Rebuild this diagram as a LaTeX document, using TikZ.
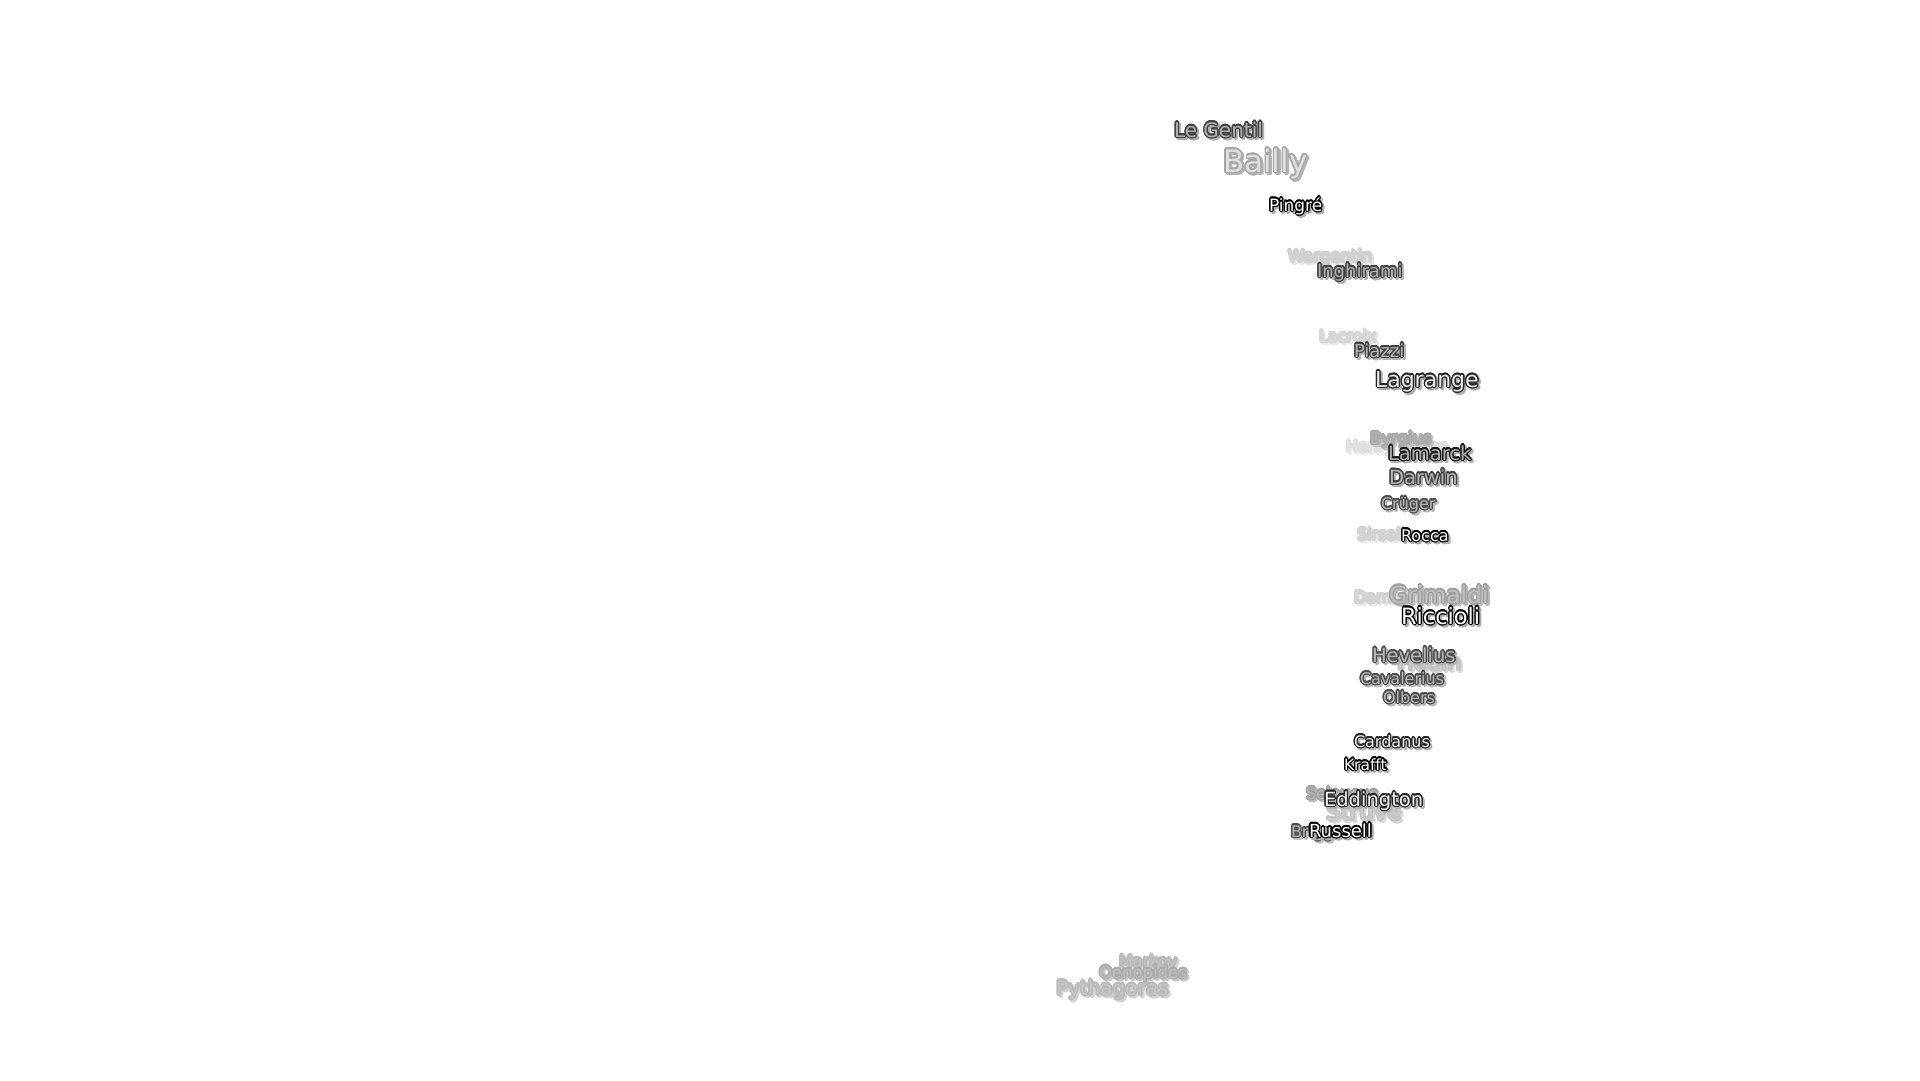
\documentclass[tikz,border=0pt]{standalone}
\usepackage{fontspec}
\setmainfont{DejaVu Sans}
\usepackage{tikz}
\usepackage{contour}
\contourlength{1.2pt}
\contournumber{16}

\begin{document}
\begin{tikzpicture}[x=1pt, y=-1pt, every node/.style={anchor=base west, inner sep=0pt, outer sep=0pt}]
	\fill [white] (0,0) rectangle (1920,1080);
	\useasboundingbox (0,0) rectangle (1920,1080);
	% x / baseline / size / fill / outline / shadow / name
	\foreach [count=\k] \x/\y/\s/\fc/\oc/\sc/\tx in {
		1174/137/20/gray!60/black!75/gray!65/Le Gentil,
		1223/172/31/gray!25/gray!70/gray!60/Bailly,
		1269/211/17/white/black/gray!65/Pingré,
		1288/262/16.5/gray!35/gray!38/gray!22/Wargentin,
		1317/277/18/gray!60/black!75/gray!60/Inghirami,
		1319/342/16/gray!30/gray!33/gray!18/Lacroix,
		1354/357/18/gray!55/black!75/gray!60/Piazzi,
		1375/387/22/gray!15/black!85/gray!65/Lagrange,
		1346/452/16/gray!22/gray!26/gray!14/Henry Frères,
		1370/444/16.5/gray!60/gray!68/gray!45/Byrgius,
		1388/460/19.5/gray!60/black!90/gray!60/Lamarck,
		1389/484/19.5/gray!55/black!75/gray!60/Darwin,
		1381/509/16/gray!55/black!70/gray!55/Crüger,
		1357/540/16/gray!33/gray!36/gray!18/Sirsalis,
		1401/541/16/white/black/gray!65/Rocca,
		1354/603/16/gray!33/gray!36/gray!18/Damoiseau,
		1389/603/23.5/gray!50/gray!75/gray!55/Grimaldi,
		1401/624/22.5/white/black/gray!65/Riccioli,
		1397/670/22/gray!42/gray!48/gray!32/Hedin,
		1372/662/19.5/gray!55/black!70/gray!60/Hevelius,
		1360/684/16/gray!55/black!70/gray!55/Cavalerius,
		1383/703/16/gray!55/black!70/gray!55/Olbers,
		1354/747/16/gray!12/black!85/gray!60/Cardanus,
		1344/770/15.5/white/black/gray!60/Krafft,
		1306/799/16/gray!55/gray!75/gray!50/Seleucus,
		1326/820/23/gray!40/gray!48/gray!32/Struve,
		1324/806/19.5/gray!12/black!85/gray!60/Eddington,
		1291/837/16/gray!55/black!70/gray!50/Briggs,
		1309/837/18/white/black/gray!65/Russell,
		1119/967/16/gray!48/gray!55/gray!35/Markov,
		1099/978/16.5/gray!52/gray!65/gray!45/Oenopides,
		1056/995/20/gray!45/gray!55/gray!35/Pythagoras}
	{
		\node [text=\sc, font=\fontsize{\s}{\s}\selectfont, xshift=2pt, yshift=-2pt] (crater\k-sh) at (\x,\y) {\contour{\sc}{\tx}};
		\node [text=\fc, font=\fontsize{\s}{\s}\selectfont] (crater\k) at (\x,\y) {\contour{\oc}{\tx}};
	}
\end{tikzpicture}
\end{document}
